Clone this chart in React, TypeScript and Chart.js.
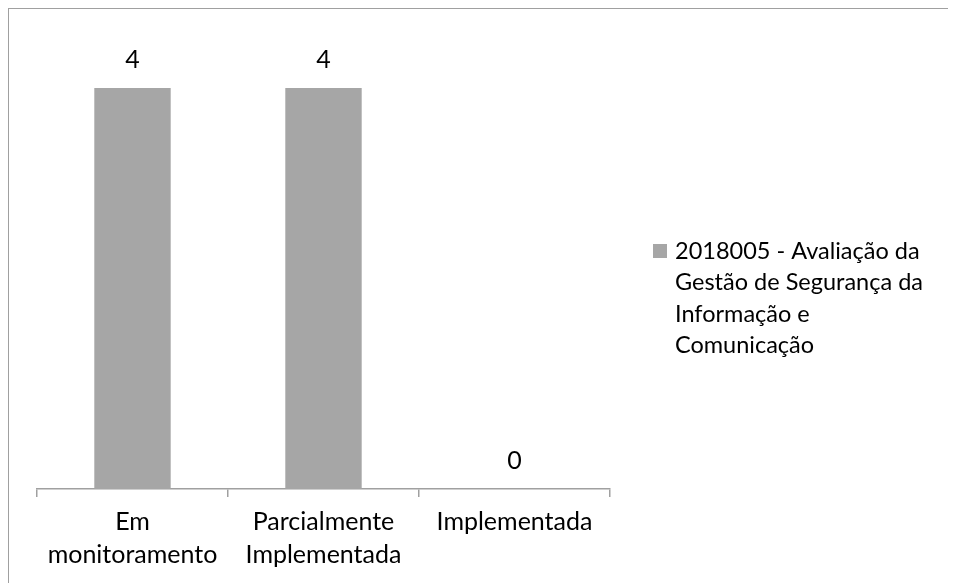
import React, { useEffect, useRef } from "react";
import { Chart, registerables } from "chart.js";

Chart.register(...registerables);

const categories: string[][] = [["Em", "monitoramento"], ["Parcialmente", "Implementada"], ["Implementada"]];
const values: number[] = [4, 4, 0];
const seriesName = "2018005 - Avaliação da Gestão de Segurança da Informação e Comunicação";
const legendLines: string[] = ["2018005 - Avaliação da", "Gestão de Segurança da", "Informação e", "Comunicação"];

const FONT = "Lato, 'Open Sans', sans-serif";
const BAR = "#a6a6a6";
const AXIS = "#a0a0a0";

const valueLabels = {
  id: "valueLabels",
  afterDatasetsDraw(chart: any) {
    const ctx = chart.ctx;
    const meta = chart.getDatasetMeta(0);
    ctx.save();
    ctx.font = `25px ${FONT}`;
    ctx.fillStyle = "#000";
    ctx.textAlign = "center";
    ctx.textBaseline = "middle";
    meta.data.forEach((bar: any, i: number) => {
      ctx.fillText(String(values[i]), bar.x, bar.y - 28);
    });
    ctx.restore();
  },
};

const sideLegend = {
  id: "sideLegend",
  afterDraw(chart: any) {
    const ctx = chart.ctx;
    ctx.save();
    const x0 = 653 - 9;
    const y0 = 251 - 9;
    ctx.fillStyle = BAR;
    ctx.fillRect(x0, y0 - 7, 14, 14);
    ctx.font = `23.5px ${FONT}`;
    ctx.fillStyle = "#000";
    ctx.textAlign = "left";
    ctx.textBaseline = "middle";
    legendLines.forEach((line, i) => {
      ctx.fillText(line, 675 - 9, y0 + i * 31.5);
    });
    ctx.restore();
  },
};

export default function App() {
  const ref = useRef<HTMLCanvasElement>(null);
  useEffect(() => {
    if (!ref.current) return;
    const chart = new Chart(ref.current, {
      type: "bar",
      data: {
        labels: categories,
        datasets: [
          {
            label: seriesName,
            data: values,
            backgroundColor: BAR,
            categoryPercentage: 0.4,
            barPercentage: 1,
          },
        ],
      },
      options: {
        animation: false,
        responsive: false,
        maintainAspectRatio: false,
        layout: { padding: { left: 28, right: 346, top: 29, bottom: 0 } },
        plugins: { legend: { display: false }, tooltip: { enabled: false } },
        scales: {
          x: {
            grid: {
              display: true,
              drawOnChartArea: false,
              drawTicks: true,
              tickLength: 8,
              offset: true,
              color: AXIS,
              lineWidth: 1.5,
            },
            border: { display: true, color: AXIS, width: 1.5 },
            ticks: {
              color: "#000",
              font: { family: FONT, size: 25, lineHeight: 1.32 },
              padding: 8,
              maxRotation: 0,
              autoSkip: false,
            },
            afterFit(scale: any) {
              scale.height = 94;
            },
          },
          y: { display: false, min: 0, max: 4.5 },
        },
      },
      plugins: [valueLabels, sideLegend],
    });
    return () => chart.destroy();
  }, []);
  return (
    <div
      style={{
        position: "relative",
        width: 948,
        height: 575,
        borderTop: "1px solid #a0a0a0",
        borderLeft: "1px solid #a0a0a0",
        overflow: "hidden",
      }}
    >
      <canvas ref={ref} width={947} height={574} style={{ display: "block", width: 947, height: 574 }} />
    </div>
  );
}
